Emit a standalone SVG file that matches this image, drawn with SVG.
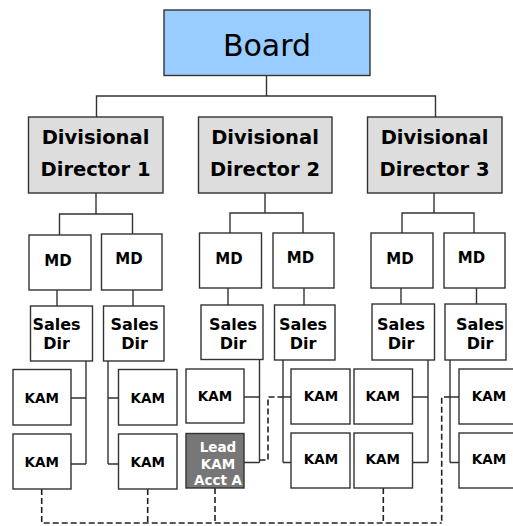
<svg xmlns="http://www.w3.org/2000/svg" width="513" height="526" viewBox="0 0 513 526">
<style>
.box{fill:#fff;stroke:#333;stroke-width:1.4}
.dd{fill:#ddd;stroke:#333;stroke-width:1.4}
.board{fill:#99ccff;stroke:#333;stroke-width:1.4}
.lead{fill:#777;stroke:#333;stroke-width:1.4}
.ln{fill:none;stroke:#333;stroke-width:1.4}
.dash{fill:none;stroke:#222;stroke-width:1.6;stroke-dasharray:6,3}
text{font-family:"DejaVu Sans",Verdana,sans-serif;text-anchor:middle;fill:#000}
.b{font-weight:bold}
.t20{font-size:19.5px}
.t16{font-size:16px}
.t15{font-size:15px}
.t13{font-size:13.5px}
.w{fill:#fff}
</style>
<rect width="513" height="526" fill="#fff"/>
<g id="connectors">
<path class="ln" d="M266.5,75.5V96M96.5,117V96H435.5V117"/>
<path class="ln" d="M96,193V214M59.5,235V214H132.5V234"/>
<path class="ln" d="M265,193V213M230,233V213H303V233"/>
<path class="ln" d="M434,193V213M402,233V213H474V233"/>
<path class="ln" d="M57,290V306M133,290V306M228,288V305M304,288V305M401,288V304M476.5,288V304"/>
<path class="ln" d="M86,361V464M71,398H86M71,464H86"/>
<path class="ln" d="M108,361V464M108,398H118M108,464H118"/>
<path class="ln" d="M259.5,360V462.5M244,397H259.5M244,462.5H259.5"/>
<path class="ln" d="M283,360V462.5M283,397H291M283,462.5H291"/>
<path class="ln" d="M428,360V462.5M413,397H428M413,462.5H428"/>
<path class="ln" d="M450,360V462.5M450,397H459M450,462.5H459"/>
<path class="dash" d="M259.5,460H268V397H283"/>
<path class="dash" d="M450,397H441.7V523"/>
<path class="dash" d="M41.7,489V523H441.7M147.7,489V523M215,488V523M383.3,488V523"/>
</g>
<g id="board">
<rect class="board" x="164" y="10" width="206" height="65.5"/>
<text x="267" y="56" style="font-size:30px">Board</text>
</g>
<g id="dd1">
<rect class="dd" x="28.5" y="117" width="134.5" height="76"/>
<text class="b t20" x="95.5" y="144">Divisional</text>
<text class="b t20" x="95.5" y="175.5">Director 1</text>
</g>
<g id="dd2">
<rect class="dd" x="198.5" y="117" width="133.5" height="76"/>
<text class="b t20" x="265" y="144">Divisional</text>
<text class="b t20" x="265" y="175.5">Director 2</text>
</g>
<g id="dd3">
<rect class="dd" x="367.5" y="117" width="134.5" height="76"/>
<text class="b t20" x="434.5" y="144">Divisional</text>
<text class="b t20" x="434.5" y="175.5">Director 3</text>
</g>
<g id="md1"><rect class="box" x="29" y="235" width="62" height="55"/><text class="b t15" x="58" y="266">MD</text></g>
<g id="md2"><rect class="box" x="101.5" y="234" width="60.5" height="56"/><text class="b t15" x="129" y="264">MD</text></g>
<g id="md3"><rect class="box" x="199.5" y="233" width="62" height="55"/><text class="b t15" x="229" y="264">MD</text></g>
<g id="md4"><rect class="box" x="273" y="233" width="61" height="55"/><text class="b t15" x="300.5" y="263">MD</text></g>
<g id="md5"><rect class="box" x="371" y="233" width="62" height="55"/><text class="b t15" x="400" y="264">MD</text></g>
<g id="md6"><rect class="box" x="444" y="233" width="61" height="55"/><text class="b t15" x="471.5" y="263">MD</text></g>
<g id="sd1"><rect class="box" x="30.5" y="306" width="62" height="55"/><text class="b t16" x="56.5" y="330">Sales</text><text class="b t16" x="56.5" y="349">Dir</text></g>
<g id="sd2"><rect class="box" x="103.5" y="306" width="60.5" height="55"/><text class="b t16" x="134.5" y="330">Sales</text><text class="b t16" x="134.5" y="349">Dir</text></g>
<g id="sd3"><rect class="box" x="201" y="305" width="62" height="54.5"/><text class="b t16" x="233" y="330">Sales</text><text class="b t16" x="233" y="349">Dir</text></g>
<g id="sd4"><rect class="box" x="274.5" y="305" width="60.5" height="55"/><text class="b t16" x="303" y="330">Sales</text><text class="b t16" x="303" y="349">Dir</text></g>
<g id="sd5"><rect class="box" x="372" y="304" width="62.5" height="56"/><text class="b t16" x="401" y="330">Sales</text><text class="b t16" x="401" y="349">Dir</text></g>
<g id="sd6"><rect class="box" x="445" y="304" width="61" height="56"/><text class="b t16" x="480" y="330">Sales</text><text class="b t16" x="480" y="349">Dir</text></g>
<g id="kam1a"><rect class="box" x="13" y="369.5" width="58" height="55.5"/><text class="b t13" x="41.7" y="402.5">KAM</text></g>
<g id="kam1b"><rect class="box" x="13" y="434" width="58" height="55"/><text class="b t13" x="41.7" y="466.5">KAM</text></g>
<g id="kam2a"><rect class="box" x="118.5" y="369.5" width="58.5" height="55.5"/><text class="b t13" x="147.7" y="402.5">KAM</text></g>
<g id="kam2b"><rect class="box" x="118.5" y="434" width="58.5" height="55"/><text class="b t13" x="147.7" y="466.5">KAM</text></g>
<g id="kam3"><rect class="box" x="186" y="369" width="58" height="54"/><text class="b t13" x="215" y="400.5">KAM</text></g>
<g id="lead"><rect class="lead" x="186" y="433.5" width="58" height="54.5"/><text class="b t13 w" x="218" y="451.5">Lead</text><text class="b t13 w" x="218" y="468.5">KAM</text><text class="b t13 w" x="218" y="485">Acct A</text></g>
<g id="kam4a"><rect class="box" x="291" y="369" width="59" height="55"/><text class="b t13" x="321" y="401">KAM</text></g>
<g id="kam4b"><rect class="box" x="291" y="433" width="59" height="55"/><text class="b t13" x="321" y="464">KAM</text></g>
<g id="kam5a"><rect class="box" x="354" y="369" width="58.5" height="55"/><text class="b t13" x="382.7" y="401">KAM</text></g>
<g id="kam5b"><rect class="box" x="354" y="433" width="58.5" height="55"/><text class="b t13" x="382.7" y="464">KAM</text></g>
<g id="kam6a"><rect class="box" x="459" y="369" width="60" height="55"/><text class="b t13" x="489" y="401">KAM</text></g>
<g id="kam6b"><rect class="box" x="459" y="433" width="60" height="55"/><text class="b t13" x="489" y="464">KAM</text></g>
</svg>
